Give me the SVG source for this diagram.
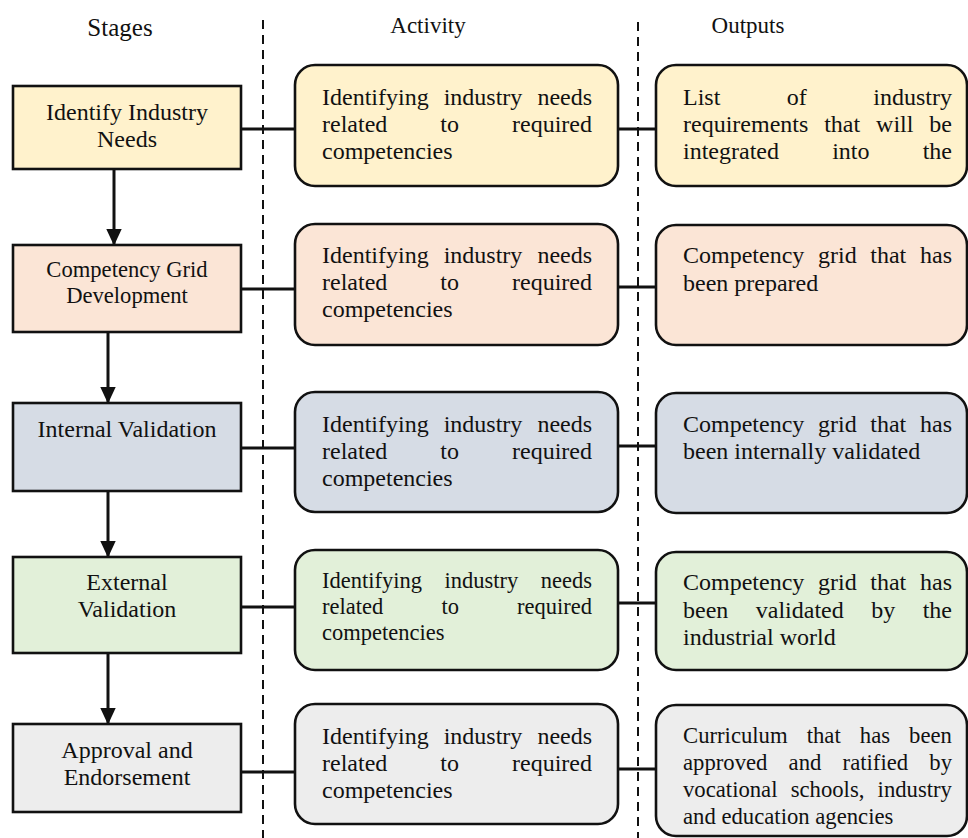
<svg xmlns="http://www.w3.org/2000/svg" width="968" height="838" viewBox="0 0 968 838">
  <style>
    text { font-family: "Liberation Serif", "Times New Roman", serif; fill: #111; }
    .head { font-size: 23px; text-anchor: middle; }
    .stage-t { font-size: 24px; text-anchor: middle; }
    .body { font-size: 24px; }
    .stage { stroke: #111; stroke-width: 2.6; }
    .box { stroke: #111; stroke-width: 2.6; }
    .divider { stroke: #111; stroke-width: 2; stroke-dasharray: 9 6; fill: none; }
    .link { stroke: #111; stroke-width: 3; fill: none; }
    .flow { stroke: #111; stroke-width: 3; fill: none; marker-end: url(#arrow); }
    .c1 { fill: #FFF2CC; }
    .c2 { fill: #FBE5D6; }
    .c3 { fill: #D6DCE5; }
    .c4 { fill: #E2F0D9; }
    .c5 { fill: #EDEDED; }
  </style>
  <defs>
    <marker id="arrow" markerWidth="5.2" markerHeight="5.6" refX="5.4" refY="2.6" orient="auto" markerUnits="strokeWidth">
      <path d="M0,0 L5.6,2.6 L0,5.2 Z" fill="#111"/>
    </marker>
  </defs>

  <rect width="968" height="838" fill="#fff"/>

  <!-- column headers -->
  <g id="headers">
    <text class="head" x="120" y="36" style="font-size:25px">Stages</text>
    <text class="head" x="428" y="33">Activity</text>
    <text class="head" x="748" y="33">Outputs</text>
  </g>

  <!-- column dividers -->
  <g id="dividers">
    <line class="divider" x1="263" y1="20" x2="263" y2="838"/>
    <line class="divider" x1="638" y1="22" x2="638" y2="838"/>
  </g>

  <!-- connectors -->
  <g id="connectors">
    <line class="link" x1="241" y1="129" x2="295" y2="129"/>
    <line class="link" x1="618" y1="129" x2="656" y2="129"/>
    <line class="link" x1="241" y1="289" x2="295" y2="289"/>
    <line class="link" x1="618" y1="287" x2="656" y2="287"/>
    <line class="link" x1="241" y1="448" x2="295" y2="448"/>
    <line class="link" x1="618" y1="446" x2="656" y2="446"/>
    <line class="link" x1="241" y1="607" x2="295" y2="607"/>
    <line class="link" x1="618" y1="603" x2="656" y2="603"/>
    <line class="link" x1="241" y1="772" x2="295" y2="772"/>
    <line class="link" x1="618" y1="769" x2="656" y2="769"/>
    <line class="flow" x1="114" y1="169" x2="114" y2="245"/>
    <line class="flow" x1="108" y1="332" x2="108" y2="403"/>
    <line class="flow" x1="108" y1="491" x2="108" y2="557"/>
    <line class="flow" x1="108" y1="653" x2="108" y2="724"/>
  </g>

  <!-- stages -->
  <g id="stage-1">
    <rect class="stage c1" x="13" y="86" width="228" height="83"/>
    <text class="stage-t" x="127" y="120">Identify Industry</text>
    <text class="stage-t" x="127" y="147">Needs</text>
  </g>
  <g id="stage-2">
    <rect class="stage c2" x="13" y="245" width="228" height="87"/>
    <text class="stage-t" x="127" y="277" style="font-size:22.6px">Competency Grid</text>
    <text class="stage-t" x="127" y="303" style="font-size:22.6px">Development</text>
  </g>
  <g id="stage-3">
    <rect class="stage c3" x="13" y="403" width="228" height="88"/>
    <text class="stage-t" x="127" y="437">Internal Validation</text>
  </g>
  <g id="stage-4">
    <rect class="stage c4" x="13" y="557" width="228" height="96"/>
    <text class="stage-t" x="127" y="590">External</text>
    <text class="stage-t" x="127" y="617">Validation</text>
  </g>
  <g id="stage-5">
    <rect class="stage c5" x="13" y="724" width="228" height="88"/>
    <text class="stage-t" x="127" y="758">Approval and</text>
    <text class="stage-t" x="127" y="785">Endorsement</text>
  </g>

  <!-- activities -->
  <g id="activity-1">
    <rect class="box c1" x="295" y="65" width="323" height="121" rx="20"/>
    <text class="body" y="105"><tspan x="322">Identifying</tspan><tspan x="443.7">industry</tspan><tspan x="537.4">needs</tspan></text>
    <text class="body" y="132"><tspan x="322">related</tspan><tspan x="440.3">to</tspan><tspan x="512">required</tspan></text>
    <text class="body" x="322" y="159">competencies</text>
  </g>
  <g id="activity-2">
    <rect class="box c2" x="295" y="224" width="323" height="121" rx="20"/>
    <text class="body" y="263"><tspan x="322">Identifying</tspan><tspan x="443.7">industry</tspan><tspan x="537.4">needs</tspan></text>
    <text class="body" y="290"><tspan x="322">related</tspan><tspan x="440.3">to</tspan><tspan x="512">required</tspan></text>
    <text class="body" x="322" y="317">competencies</text>
  </g>
  <g id="activity-3">
    <rect class="box c3" x="295" y="392" width="323" height="120" rx="20"/>
    <text class="body" y="432"><tspan x="322">Identifying</tspan><tspan x="443.7">industry</tspan><tspan x="537.4">needs</tspan></text>
    <text class="body" y="459"><tspan x="322">related</tspan><tspan x="440.3">to</tspan><tspan x="512">required</tspan></text>
    <text class="body" x="322" y="486">competencies</text>
  </g>
  <g id="activity-4">
    <rect class="box c4" x="295" y="550" width="323" height="120" rx="20"/>
    <text class="body" y="588" style="font-size:22.5px"><tspan x="322">Identifying</tspan><tspan x="444.5">industry</tspan><tspan x="540.8">needs</tspan></text>
    <text class="body" y="614" style="font-size:22.5px"><tspan x="322">related</tspan><tspan x="441.4">to</tspan><tspan x="517">required</tspan></text>
    <text class="body" x="322" y="640" style="font-size:22.5px">competencies</text>
  </g>
  <g id="activity-5">
    <rect class="box c5" x="295" y="704" width="323" height="120" rx="20"/>
    <text class="body" y="744"><tspan x="322">Identifying</tspan><tspan x="443.7">industry</tspan><tspan x="537.4">needs</tspan></text>
    <text class="body" y="771"><tspan x="322">related</tspan><tspan x="440.3">to</tspan><tspan x="512">required</tspan></text>
    <text class="body" x="322" y="798">competencies</text>
  </g>

  <!-- outputs -->
  <g id="output-1">
    <rect class="box c1" x="656" y="65" width="311" height="121" rx="20"/>
    <text class="body" y="105"><tspan x="683">List</tspan><tspan x="786.8">of</tspan><tspan x="873.3">industry</tspan></text>
    <text class="body" y="132"><tspan x="683">requirements</tspan><tspan x="824.2">that</tspan><tspan x="876.1">will</tspan><tspan x="929.3">be</tspan></text>
    <text class="body" y="159"><tspan x="683">integrated</tspan><tspan x="832.2">into</tspan><tspan x="922.7">the</tspan></text>
  </g>
  <g id="output-2">
    <rect class="box c2" x="656" y="225" width="311" height="120" rx="20"/>
    <text class="body" y="263"><tspan x="683">Competency</tspan><tspan x="818">grid</tspan><tspan x="870.3">that</tspan><tspan x="920">has</tspan></text>
    <text class="body" x="683" y="291">been prepared</text>
  </g>
  <g id="output-3">
    <rect class="box c3" x="656" y="393" width="311" height="120" rx="20"/>
    <text class="body" y="432"><tspan x="683">Competency</tspan><tspan x="818">grid</tspan><tspan x="870.3">that</tspan><tspan x="920">has</tspan></text>
    <text class="body" x="683" y="459">been internally validated</text>
  </g>
  <g id="output-4">
    <rect class="box c4" x="656" y="552" width="311" height="118" rx="20"/>
    <text class="body" y="590"><tspan x="683">Competency</tspan><tspan x="818">grid</tspan><tspan x="870.3">that</tspan><tspan x="920">has</tspan></text>
    <text class="body" y="618"><tspan x="683">been</tspan><tspan x="755.8">validated</tspan><tspan x="871.2">by</tspan><tspan x="922.7">the</tspan></text>
    <text class="body" x="683" y="645">industrial world</text>
  </g>
  <g id="output-5">
    <rect class="box c5" x="656" y="705" width="311" height="131" rx="20"/>
    <text class="body" y="743" style="font-size:22.7px"><tspan x="683">Curriculum</tspan><tspan x="806.7">that</tspan><tspan x="859.8">has</tspan><tspan x="909.1">been</tspan></text>
    <text class="body" y="770" style="font-size:22.7px"><tspan x="683">approved</tspan><tspan x="788.6">and</tspan><tspan x="842.6">ratified</tspan><tspan x="929.3">by</tspan></text>
    <text class="body" y="797" style="font-size:22.7px"><tspan x="683">vocational</tspan><tspan x="790.7">schools,</tspan><tspan x="877.6">industry</tspan></text>
    <text class="body" x="683" y="824" style="font-size:22.7px">and education agencies</text>
  </g>
</svg>
